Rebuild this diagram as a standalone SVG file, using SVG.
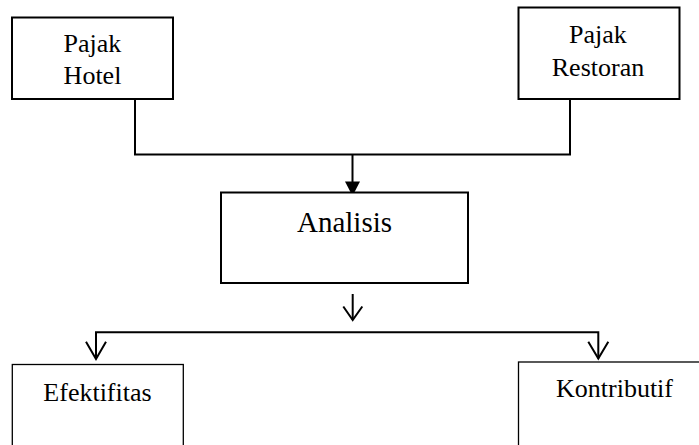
<svg xmlns="http://www.w3.org/2000/svg" width="699" height="445" viewBox="0 0 699 445">
<style>
.box{fill:#fff;stroke:#000;stroke-width:2}
.thin{fill:#fff;stroke:#000;stroke-width:1.3}
.ln{fill:none;stroke:#000;stroke-width:2}
.t{font-family:"Liberation Serif","Times New Roman",serif;font-size:26px;fill:#000;text-anchor:middle}
.big{font-size:29px}
</style>
<rect width="699" height="445" fill="#fff"/>
<g id="connectors">
<polyline class="ln" points="135,99 135,154.5 570,154.5 570,99"/>
<line class="ln" x1="352.5" y1="154.5" x2="352.5" y2="184"/>
<polygon points="345,181.5 360,181.5 352.5,196" fill="#000"/>
<line class="ln" x1="352.7" y1="294" x2="352.7" y2="320"/>
<polyline class="ln" points="343.3,306.5 352.7,320 362.3,306.5"/>
<polyline class="ln" points="96,359 96,332.3 598.3,332.3 598.3,358.5"/>
<polyline class="ln" points="86,341.7 96,359 106,341.7"/>
<polyline class="ln" points="588.3,341.7 598.3,358.5 608.3,341.7"/>
</g>
<g id="pajak-hotel">
<rect class="box" x="12" y="17.5" width="161" height="81.5"/>
<text class="t" x="92.5" y="52">Pajak</text>
<text class="t" x="92.5" y="83.5">Hotel</text>
</g>
<g id="pajak-restoran">
<rect class="box" x="518.5" y="7.5" width="161" height="91.5"/>
<text class="t" x="598" y="42.5">Pajak</text>
<text class="t" x="598" y="75.5">Restoran</text>
</g>
<g id="analisis">
<rect class="box" x="221" y="192.5" width="247" height="90.5"/>
<text class="t big" x="344.5" y="232">Analisis</text>
</g>
<g id="efektifitas">
<rect class="thin" x="12.3" y="364.5" width="171" height="100"/>
<text class="t" x="97.5" y="401">Efektifitas</text>
</g>
<g id="kontributif">
<rect class="thin" x="518.5" y="362" width="200" height="100"/>
<text class="t" x="614.5" y="397">Kontributif</text>
</g>
</svg>
